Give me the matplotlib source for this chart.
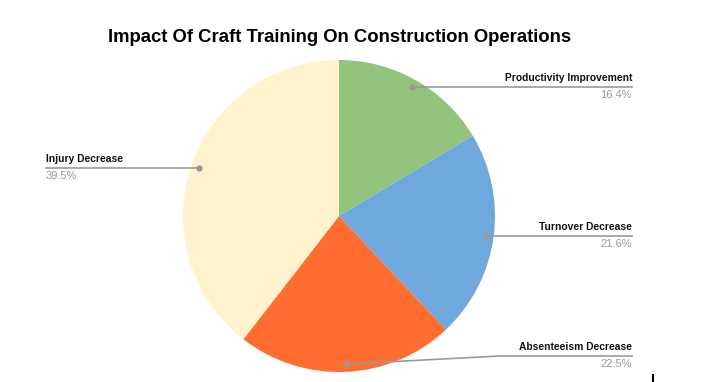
import numpy as np
import matplotlib.pyplot as plt

plt.rcParams['font.family'] = ['Liberation Sans', 'DejaVu Sans']

labels = ['Productivity Improvement', 'Turnover Decrease', 'Absenteeism Decrease', 'Injury Decrease']
values = [16.4, 21.6, 22.5, 39.5]
colors = ['#93c47d', '#6fa8dc', '#ff6d31', '#fff2cc']

W, H = 706, 382
fig = plt.figure(figsize=(W / 100, H / 100), dpi=100)
ax = fig.add_axes([0, 0, 1, 1])

cx, cy, R = 339, H - 216, 156
ax.pie(values, colors=colors, startangle=90, counterclock=False,
       center=(cx, cy), radius=R, frame=True)
ax.set_xlim(0, W)
ax.set_ylim(0, H)
ax.set_aspect('equal')
ax.axis('off')

# leader lines + labels
total = sum(values)
start = 90.0
for lab, v in zip(labels, values):
    ang = start - v / total * 360 / 2
    start -= v / total * 360
    a = np.radians(ang)
    dx = cx + 0.95 * R * np.cos(a)
    dy = cy + 0.95 * R * np.sin(a)
    line_y = max(dy, 26)  # keep bottom label inside figure
    if np.cos(a) >= 0:
        xend, ha = 632, 'right'
        xs = [dx, 500 if line_y != dy else dx, xend]
    else:
        xend, ha = 46, 'left'
        xs = [dx, dx, xend]
    ys = [dy, line_y, line_y]
    ax.plot(xs, ys, color='#999999', lw=1.2, zorder=3)
    ax.plot([dx], [dy], 'o', color='#999999', ms=3.5, zorder=4)
    ax.text(xend, line_y + 4, lab, ha=ha, va='bottom', fontsize=7.4,
            fontweight='bold', color='#111111')
    ax.text(xend, line_y - 3, '%.1f%%' % v, ha=ha, va='top', fontsize=8,
            color='#999999')

fig.text(340 / W, 1 - 37 / H, 'Impact Of Craft Training On Construction Operations',
         ha='center', va='center', fontsize=13.3, fontweight='bold', color='#000000')

# small mark at bottom right
ax.plot([653, 653], [0, 7], color='black', lw=1.5)

fig.savefig('out.png', dpi=100)
